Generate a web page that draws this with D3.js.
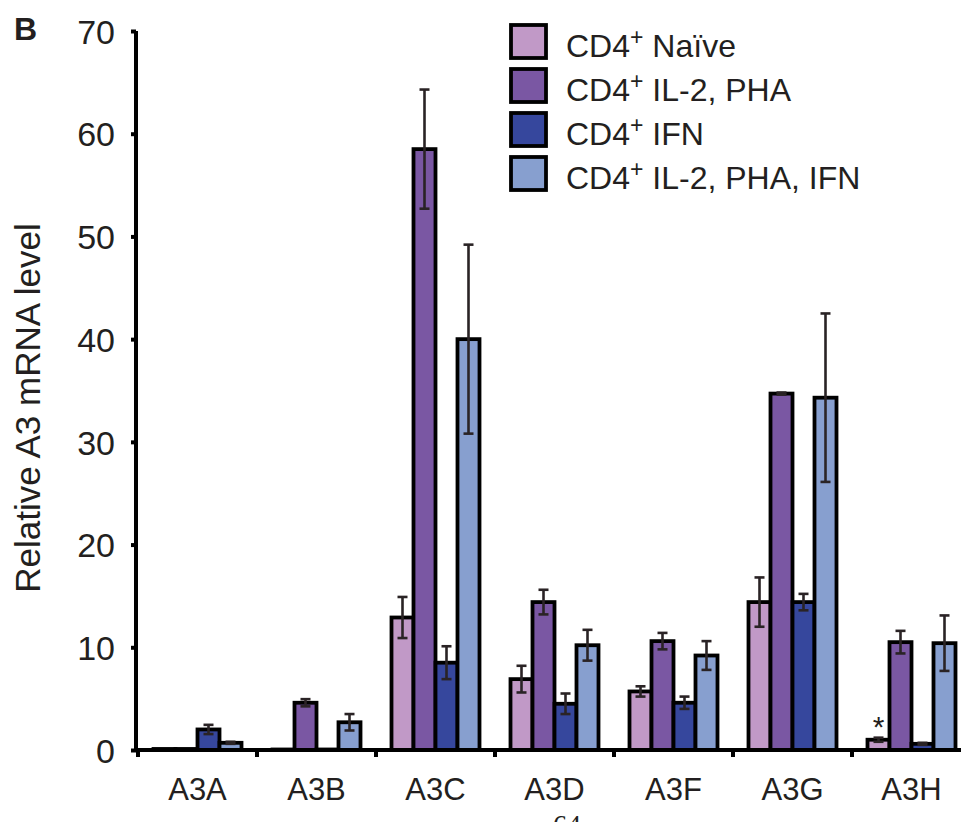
<!DOCTYPE html>
<html>
<head>
<meta charset="utf-8">
<script src="https://cdn.jsdelivr.net/npm/d3@7"></script>
<style>
  body { margin: 0; background: #fff; }
  svg { display: block; font-family: "Liberation Sans", Arial, sans-serif; }
</style>
</head>
<body>
<svg width="961" height="822"></svg>
<script>
var svg = d3.select("svg");

//==================================================
//Data

var genes = ["A3A", "A3B", "A3C", "A3D", "A3F", "A3G", "A3H"];
var series = ["naive", "il2pha", "ifn", "il2phaifn"];
var seriesLabels = ["Naïve", "IL-2, PHA", "IFN", "IL-2, PHA, IFN"];
var colors = ["#c199c7", "#7a57a3", "#36479d", "#879fcf"];

var naive     = [0.1, 0.05, 12.9, 6.9, 5.7, 14.4, 1.0];
var il2pha    = [0.1, 4.6, 58.5, 14.4, 10.6, 34.7, 10.5];
var ifn       = [2.0, 0.05, 8.5, 4.5, 4.6, 14.4, 0.6];
var il2phaifn = [0.7, 2.7, 40.0, 10.2, 9.2, 34.3, 10.4];

var naiveErr     = [0, 0, 2.0, 1.3, 0.5, 2.4, 0.2];
var il2phaErr    = [0, 0.35, 5.8, 1.2, 0.8, 0.1, 1.1];
var ifnErr       = [0.45, 0, 1.6, 1.0, 0.6, 0.8, 0.1];
var il2phaifnErr = [0.1, 0.8, 9.2, 1.5, 1.4, 8.2, 2.7];

var yTicks = [0, 10, 20, 30, 40, 50, 60, 70];

var values = [naive, il2pha, ifn, il2phaifn];
var errors = [naiveErr, il2phaErr, ifnErr, il2phaifnErr];

//==================================================
//Scales

var x0 = d3.scaleBand()
    .domain(genes)
    .range([138, 138 + 119 * genes.length]);

var x1 = d3.scaleBand()
    .domain(series)
    .range([15.5, 103.5]);

var y = d3.scaleLinear()
    .domain([0, 70])
    .range([750, 31]);

//==================================================
//Bars

var groups = svg.append("g")
    .selectAll("g")
    .data(genes)
    .enter().append("g")
    .attr("transform", function(d) { return "translate(" + x0(d) + ",0)"; });

groups.selectAll("rect")
    .data(function(d, gi) {
        return series.map(function(s, si) {
            return {s: s, si: si, v: values[si][gi], e: errors[si][gi]};
        });
    })
    .enter().append("rect")
    .attr("x", function(d) { return x1(d.s); })
    .attr("width", x1.bandwidth())
    .attr("y", function(d) { return y(d.v); })
    .attr("height", function(d) { return y(0) - y(d.v); })
    .attr("fill", function(d) { return colors[d.si]; })
    .attr("stroke", "#000")
    .attr("stroke-width", 3.8);

//error bars
var eb = groups.selectAll("g.err")
    .data(function(d, gi) {
        return series.map(function(s, si) {
            return {s: s, v: values[si][gi], e: errors[si][gi]};
        }).filter(function(d) { return d.e > 0; });
    })
    .enter().append("g")
    .attr("class", "err")
    .attr("stroke", "#2a2325")
    .attr("stroke-width", 2.6);

eb.append("line")
    .attr("x1", function(d) { return x1(d.s) + x1.bandwidth() / 2; })
    .attr("x2", function(d) { return x1(d.s) + x1.bandwidth() / 2; })
    .attr("y1", function(d) { return y(d.v + d.e); })
    .attr("y2", function(d) { return y(Math.max(0, d.v - d.e)); });

eb.selectAll("line.cap")
    .data(function(d) { return [d.v + d.e, d.v - d.e].map(function(v) { return {s: d.s, v: v}; }); })
    .enter().append("line")
    .attr("class", "cap")
    .attr("x1", function(d) { return x1(d.s) + x1.bandwidth() / 2 - 5; })
    .attr("x2", function(d) { return x1(d.s) + x1.bandwidth() / 2 + 5; })
    .attr("y1", function(d) { return y(d.v); })
    .attr("y2", function(d) { return y(d.v); });

//asterisk over A3H naive
svg.append("text")
    .attr("x", x0("A3H") + x1("naive") + x1.bandwidth() / 2)
    .attr("y", y(naive[6] + naiveErr[6]) - 1)
    .attr("text-anchor", "middle")
    .attr("fill", "#231f20")
    .style("font-size", "30px")
    .text("*");

//==================================================
//Axes

var yAxis = svg.append("g")
    .attr("transform", "translate(136,0)")
    .call(d3.axisLeft(y).tickValues(yTicks).tickSize(5).tickPadding(16));
yAxis.select(".domain").attr("stroke-width", 4).attr("d", "M0," + y(70) + "V" + (y(0) + 2));
yAxis.selectAll(".tick line").attr("stroke-width", 4);
yAxis.selectAll(".tick text")
    .style("font-size", "34px")
    .style("font-family", "Liberation Sans, Arial, sans-serif")
    .attr("fill", "#231f20")
    .attr("dy", "0.36em");

var xAxis = svg.append("g")
    .attr("transform", "translate(0," + y(0) + ")")
    .call(d3.axisBottom(x0).tickSize(0).tickPadding(28));
xAxis.select(".domain").attr("stroke-width", 4).attr("d", "M134,0H961");
xAxis.selectAll(".tick text")
    .style("font-size", "31px")
    .style("font-family", "Liberation Sans, Arial, sans-serif")
    .attr("fill", "#231f20");

//boundary ticks between genes
xAxis.selectAll("line.bound")
    .data(genes)
    .enter().append("line")
    .attr("class", "bound")
    .attr("x1", function(d) { return x0(d); })
    .attr("x2", function(d) { return x0(d); })
    .attr("y1", 0)
    .attr("y2", 7)
    .attr("stroke", "#000")
    .attr("stroke-width", 4);

//axis title
svg.append("text")
    .attr("transform", "translate(40,408) rotate(-90)")
    .attr("text-anchor", "middle")
    .attr("fill", "#231f20")
    .style("font-size", "35px")
    .text("Relative A3 mRNA level");

//panel letter
svg.append("text")
    .attr("x", 14)
    .attr("y", 40)
    .attr("fill", "#231f20")
    .style("font-size", "32px")
    .style("font-weight", "bold")
    .text("B");

//==================================================
//Legend

var legend = svg.append("g")
    .selectAll("g")
    .data(seriesLabels)
    .enter().append("g")
    .attr("transform", function(d, i) { return "translate(0," + (i * 44) + ")"; });

legend.append("rect")
    .attr("x", 511)
    .attr("y", 25)
    .attr("width", 35)
    .attr("height", 33)
    .attr("fill", function(d, i) { return colors[i]; })
    .attr("stroke", "#000")
    .attr("stroke-width", 3.8);

var lt = legend.append("text")
    .attr("x", 566)
    .attr("y", 57)
    .attr("fill", "#231f20")
    .style("font-size", "32px");
lt.append("tspan").text("CD4");
lt.append("tspan").attr("dy", -12).style("font-size", "23px").text("+");
lt.append("tspan").attr("dy", 12).text(function(d) { return " " + d; });

//page number cut off at the bottom
svg.append("text")
    .attr("x", 567)
    .attr("y", 834)
    .attr("text-anchor", "middle")
    .style("font-family", "Liberation Serif, serif")
    .style("font-size", "28px")
    .attr("fill", "#231f20")
    .text("64");
</script>
</body>
</html>
